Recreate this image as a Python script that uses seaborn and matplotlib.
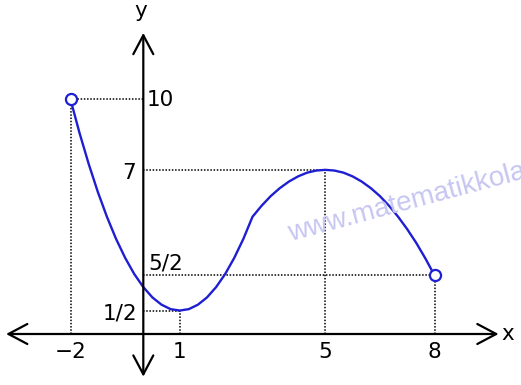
import matplotlib
matplotlib.use("Agg")
import matplotlib.pyplot as plt
import seaborn as sns
import pandas as pd

# ---- data ----
curve_x = [-2, -1.75, -1.5, -1.25, -1, -0.75, -0.5, -0.25, 0, 0.25, 0.5, 0.75, 1,
           1.25, 1.5, 1.75, 2, 2.25, 2.5, 2.75, 3,
           3.25, 3.5, 3.75, 4, 4.25, 4.5, 4.75, 5, 5.25, 5.5, 5.75, 6, 6.25, 6.5,
           6.75, 7, 7.25, 7.5, 7.75, 8]
curve_y = [10, 8.56, 7.25, 6.06, 5, 4.06, 3.25, 2.56, 2, 1.56, 1.25, 1.06, 1,
           1.06, 1.25, 1.56, 2, 2.56, 3.25, 4.06, 5,
           5.47, 5.88, 6.22, 6.5, 6.72, 6.88, 6.97, 7, 6.97, 6.88, 6.72, 6.5, 6.22, 5.88,
           5.47, 5, 4.47, 3.88, 3.22, 2.5]

open_x = [-2, 8]
open_y = [10, 2.5]

# key points (x, y) with guide lines
key_x = [-2, 1, 5, 8]
key_y = [10, 1, 7, 2.5]

ytick_labels = ["10", "7", "5/2", "1/2"]
ytick_values = [10, 7, 2.5, 1]
xtick_labels = ["\u22122", "1", "5", "8"]
xtick_values = [-2, 1, 5, 8]

# ---- figure ----
sns.set_theme(style="white")
plt.rcParams['font.family'] = ['DejaVu Sans']
fig = plt.figure(figsize=(5.21, 3.85), dpi=100)
ax = fig.add_axes([0, 0, 1, 1])
ax.set_xlim(-3.937, 10.376)
ax.set_ylim(-2.175, 14.243)
ax.axis("off")

dot = dict(color="black", lw=1.1, linestyle=(0, (1, 1.1)))
# guide lines
for kx, ky in zip(key_x, key_y):
    ax.vlines(kx, 0, ky, **dot)
ax.hlines(10, -2, 0, **dot)
ax.hlines(7, 0, 5, **dot)
ax.hlines(2.5, 0, 8, **dot)
ax.hlines(1, 0, 1, **dot)

# axes with open arrowheads
astyle = "<->,head_length=0.68,head_width=0.36"
ax.annotate("", xy=(9.76, 0), xytext=(-3.77, 0),
            arrowprops=dict(arrowstyle=astyle, lw=1.6, color="black",
                            mutation_scale=20, shrinkA=0, shrinkB=0))
ax.annotate("", xy=(0, 12.84), xytext=(0, -1.82),
            arrowprops=dict(arrowstyle=astyle, lw=1.6, color="black",
                            mutation_scale=20, shrinkA=0, shrinkB=0))

# curve
df = pd.DataFrame({"x": curve_x, "y": curve_y})
sns.lineplot(data=df, x="x", y="y", sort=False, color="#1e1ed2", lw=1.7, ax=ax,
             estimator=None)
ax.plot(open_x, open_y, linestyle="none", marker="o", ms=8, mfc="white",
        mec="#1e1ed2", mew=1.6, zorder=5)

fs = 15.5
tc = "black"
# y labels
ax.text(0.10, 9.72, ytick_labels[0], fontsize=fs, color=tc, ha="left", va="baseline")
ax.text(-0.20, 6.63, ytick_labels[1], fontsize=fs, color=tc, ha="right", va="baseline")
ax.text(0.13, 2.73, ytick_labels[2], fontsize=fs, color=tc, ha="left", va="baseline")
ax.text(-0.17, 0.6, ytick_labels[3], fontsize=fs, color=tc, ha="right", va="baseline")
# x labels
for v, lab in zip(xtick_values, xtick_labels):
    ax.text(v, -1.04, lab, fontsize=fs, color=tc, ha="center", va="baseline")

ax.text(-0.06, 13.5, "y", fontsize=fs, color=tc, ha="center", va="baseline")
ax.text(10.02, -0.26, "x", fontsize=fs, color=tc, ha="center", va="baseline")

# watermark
fig.text(290 / 521, 1 - 241 / 385, "www.matematikkolay.net", fontsize=20,
         family="Liberation Sans", color="#c6c6f2", rotation=15,
         rotation_mode="anchor", ha="left", va="baseline", zorder=0)

fig.savefig("out.png", dpi=100)
